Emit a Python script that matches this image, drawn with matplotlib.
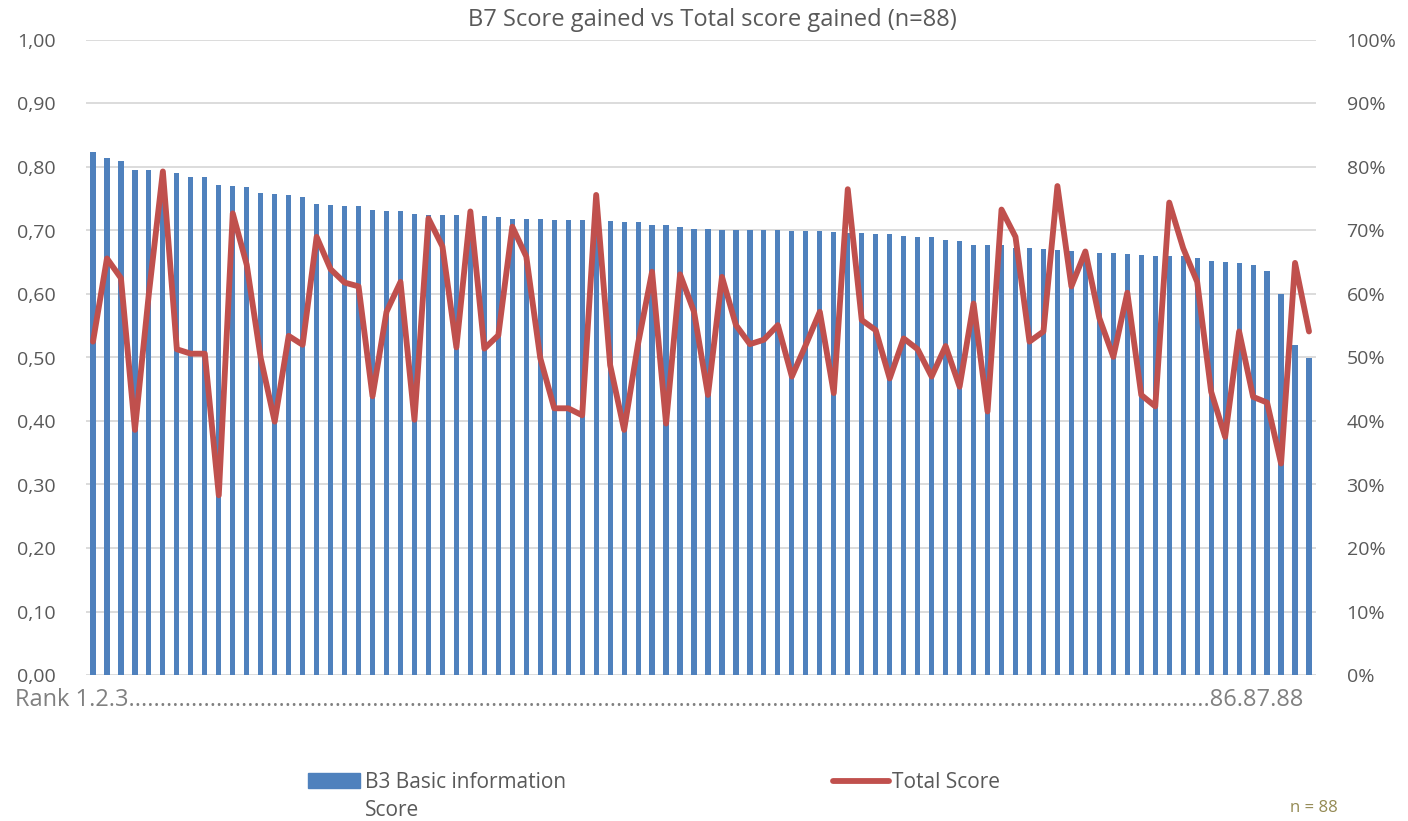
import matplotlib
matplotlib.use("Agg")
from matplotlib import pyplot as plt
from matplotlib.ticker import FuncFormatter, PercentFormatter
from matplotlib.patches import Rectangle
from matplotlib.lines import Line2D
import numpy as np

# B3 basic information score per rank (left axis)
b3_score = [
    0.824, 0.814, 0.809, 0.796, 0.795, 0.793, 0.790, 0.784, 0.784, 0.772,
    0.770, 0.769, 0.759, 0.757, 0.756, 0.752, 0.742, 0.740, 0.738, 0.738,
    0.732, 0.731, 0.730, 0.726, 0.725, 0.725, 0.725, 0.724, 0.723, 0.722,
    0.718, 0.718, 0.718, 0.717, 0.717, 0.717, 0.716, 0.715, 0.713, 0.713,
    0.709, 0.709, 0.705, 0.702, 0.702, 0.701, 0.701, 0.701, 0.701, 0.700,
    0.699, 0.699, 0.699, 0.697, 0.696, 0.696, 0.694, 0.694, 0.692, 0.690,
    0.690, 0.685, 0.683, 0.677, 0.677, 0.677, 0.673, 0.672, 0.671, 0.669,
    0.668, 0.667, 0.664, 0.664, 0.663, 0.661, 0.660, 0.660, 0.660, 0.657,
    0.652, 0.650, 0.649, 0.645, 0.637, 0.600, 0.520, 0.499,
]

# total score per rank (right axis, fraction)
total_score = [
    0.525, 0.656, 0.625, 0.386, 0.601, 0.793, 0.513, 0.506, 0.506, 0.283,
    0.727, 0.646, 0.499, 0.399, 0.534, 0.520, 0.690, 0.639, 0.618, 0.612,
    0.439, 0.572, 0.619, 0.402, 0.719, 0.675, 0.516, 0.730, 0.514, 0.535,
    0.706, 0.659, 0.499, 0.420, 0.420, 0.409, 0.756, 0.488, 0.386, 0.522,
    0.635, 0.396, 0.631, 0.572, 0.441, 0.627, 0.551, 0.521, 0.528, 0.551,
    0.470, 0.520, 0.572, 0.444, 0.765, 0.559, 0.543, 0.467, 0.530, 0.513,
    0.470, 0.518, 0.454, 0.585, 0.415, 0.733, 0.690, 0.525, 0.541, 0.770,
    0.612, 0.667, 0.562, 0.501, 0.602, 0.441, 0.423, 0.744, 0.672, 0.619,
    0.446, 0.375, 0.541, 0.438, 0.429, 0.333, 0.649, 0.541,
]

title = "B7 Score gained vs Total score gained (n=88)"
bar_label = "B3 Basic information\nScore"
line_label = "Total Score"

plt.rcParams['font.family'] = ['Open Sans', 'DejaVu Sans']
txt = "#595959"
blue = "#4f81bd"
red = "#c0504d"

W, H = 1408, 821
fig = plt.figure(figsize=(W/100, H/100), dpi=100)
ax = fig.add_axes([86/W, 1-675/H, 1230/W, 635/H])
ranks = np.arange(len(b3_score))
ax.bar(ranks, b3_score, width=0.37, color=blue, zorder=2)
ax.set_xlim(-0.5, len(b3_score)-0.5)
ax.set_ylim(0, 1)
ax.set_yticks(np.arange(0, 1.01, 0.1))
ax.yaxis.set_major_formatter(FuncFormatter(lambda v, p: f"{v:.2f}".replace('.', ',')))
ax.grid(axis='y', color='#d9d9d9', linewidth=1.3, zorder=0)
ax.set_xticks([])
for s in ax.spines.values():
    s.set_visible(False)
ax.tick_params(axis='y', length=0, labelsize=14, labelcolor=txt, pad=22)

ax2 = ax.twinx()
ax2.plot(ranks, total_score, color=red, linewidth=4.2, solid_joinstyle='round', solid_capstyle='round')
ax2.set_ylim(0, 1)
ax2.set_yticks(np.arange(0, 1.01, 0.1))
ax2.yaxis.set_major_formatter(PercentFormatter(1.0, decimals=0))
ax2.tick_params(axis='y', length=0, labelsize=14, labelcolor=txt, pad=22)
for s in ax2.spines.values():
    s.set_visible(False)

fig.text(712/W, 1-20/H, title, ha='center', va='center', fontsize=17, color=txt)

# rank label row with dotted filler
rank_left, rank_right = "Rank 1.2.3", "86.87.88"
rt = fig.text(15/W, 1-700/H, rank_left + "." * 5 + rank_right, ha='left', va='center',
              fontsize=17, color='#808080')
renderer = fig.canvas.get_renderer()
n = 5
while rt.get_window_extent(renderer).x1 < 1302 and n < 400:
    n += 1
    rt.set_text(rank_left + "." * n + rank_right)

# legend
fig.patches.append(Rectangle((308/W, 1-788/H), 52/W, 15/H,
                             transform=fig.transFigure, color=blue))
fig.text(365/W, 1-782/H, "B3 Basic information", ha='left', va='center', fontsize=15, color=txt)
fig.text(365/W, 1-810/H, "Score", ha='left', va='center', fontsize=15, color=txt)
fig.lines.append(Line2D([833/W, 889/W], [1-781/H, 1-781/H], transform=fig.transFigure,
                        color=red, linewidth=4.2, solid_capstyle='round'))
fig.text(892/W, 1-782/H, line_label, ha='left', va='center', fontsize=15, color=txt)

fig.text(1314/W, 1-808/H, "n = 88", ha='center', va='center', fontsize=12, color='#948a54')

fig.savefig("out.png", dpi=100)
